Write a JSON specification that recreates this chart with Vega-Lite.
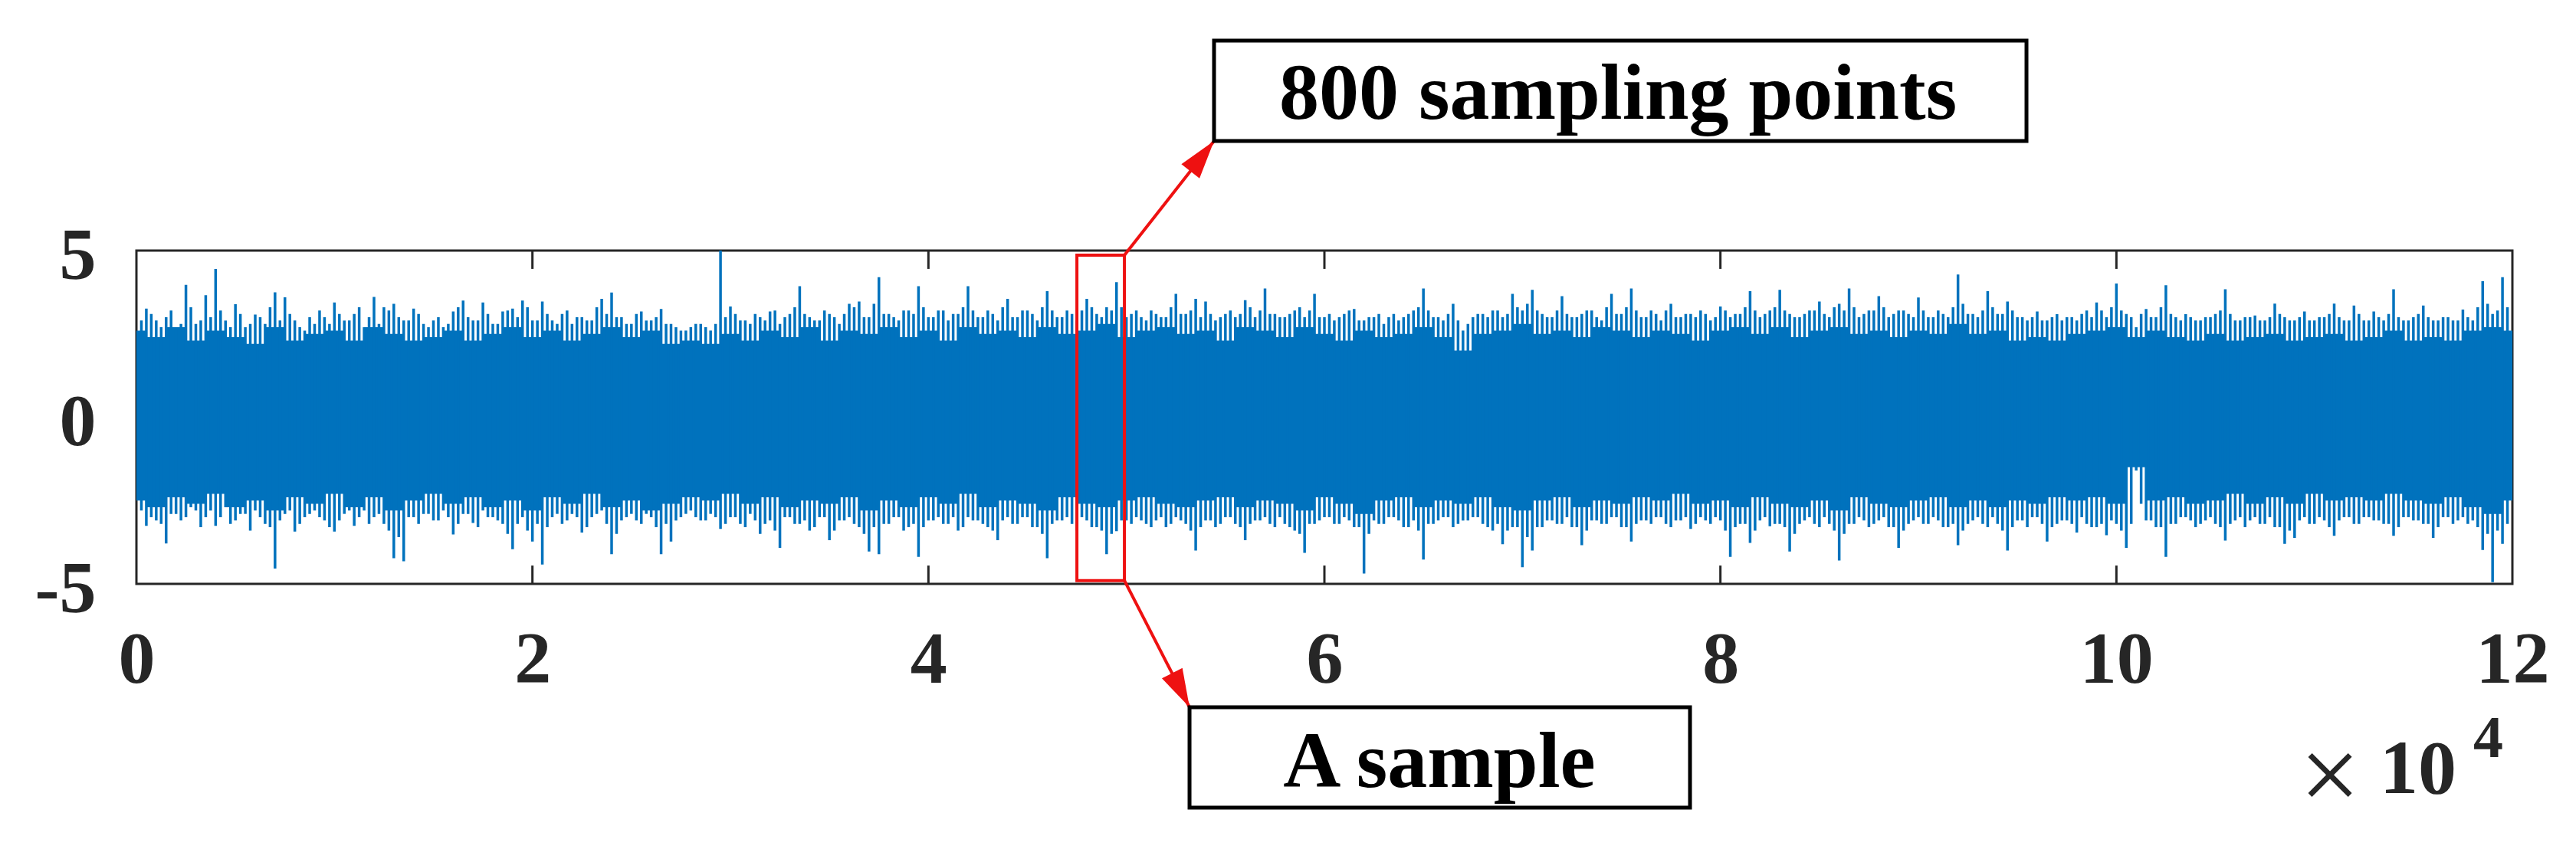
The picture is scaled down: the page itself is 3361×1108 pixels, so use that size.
{
  "$schema": "https://vega.github.io/schema/vega-lite/v6.json",
  "width": 3100,
  "height": 435,
  "autosize": {"type": "none"},
  "padding": {"left": 178, "top": 327, "right": 83, "bottom": 346},
  "background": "white",
  "config": {"view": {"stroke": "#262626", "strokeWidth": 3}, "font": "Liberation Serif"},
  "datasets": {
    "ticks": [{"t": 20000}, {"t": 40000}, {"t": 60000}, {"t": 80000}, {"t": 100000}],
    "core": [
      {"x":0,"y":2.6,"y2":-2.5},{"x":1000,"y":2.4,"y2":-2.7},{"x":2000,"y":2.7,"y2":-2.4},{"x":3000,"y":2.3,"y2":-2.6},{"x":4000,"y":2.6,"y2":-2.3},
      {"x":5000,"y":2.4,"y2":-2.7},{"x":6000,"y":2.2,"y2":-2.5},{"x":7000,"y":2.7,"y2":-2.8},{"x":8000,"y":2.3,"y2":-2.4},{"x":9000,"y":2.5,"y2":-2.6},
      {"x":10000,"y":2.6,"y2":-2.3},{"x":11000,"y":2.3,"y2":-2.7},{"x":12000,"y":2.7,"y2":-2.4},{"x":13000,"y":2.5,"y2":-2.8},{"x":14000,"y":2.3,"y2":-2.5},
      {"x":15000,"y":2.4,"y2":-2.3},{"x":16000,"y":2.6,"y2":-2.6},{"x":17000,"y":2.3,"y2":-2.4},{"x":18000,"y":2.5,"y2":-2.7},{"x":19000,"y":2.7,"y2":-2.5},
      {"x":20000,"y":2.4,"y2":-2.8},{"x":21000,"y":2.6,"y2":-2.4},{"x":22000,"y":2.3,"y2":-2.6},{"x":23000,"y":2.5,"y2":-2.3},{"x":24000,"y":2.7,"y2":-2.7},
      {"x":25000,"y":2.4,"y2":-2.5},{"x":26000,"y":2.6,"y2":-2.8},{"x":27000,"y":2.2,"y2":-2.6},{"x":28000,"y":2.3,"y2":-2.4},{"x":29000,"y":2.2,"y2":-2.5},
      {"x":30000,"y":2.5,"y2":-2.3},{"x":31000,"y":2.3,"y2":-2.6},{"x":32000,"y":2.6,"y2":-2.4},{"x":33000,"y":2.4,"y2":-2.7},{"x":34000,"y":2.7,"y2":-2.5},
      {"x":35000,"y":2.3,"y2":-2.6},{"x":36000,"y":2.6,"y2":-2.4},{"x":37000,"y":2.5,"y2":-2.8},{"x":38000,"y":2.7,"y2":-2.5},{"x":39000,"y":2.4,"y2":-2.7},
      {"x":40000,"y":2.6,"y2":-2.4},{"x":41000,"y":2.3,"y2":-2.6},{"x":42000,"y":2.7,"y2":-2.3},{"x":43000,"y":2.5,"y2":-2.7},{"x":44000,"y":2.6,"y2":-2.5},
      {"x":45000,"y":2.4,"y2":-2.6},{"x":46000,"y":2.7,"y2":-2.8},{"x":47000,"y":2.5,"y2":-2.4},{"x":48000,"y":2.6,"y2":-2.6},{"x":49000,"y":2.8,"y2":-2.7},
      {"x":50000,"y":2.4,"y2":-2.5},{"x":51000,"y":2.6,"y2":-2.4},{"x":52000,"y":2.7,"y2":-2.6},{"x":53000,"y":2.5,"y2":-2.7},{"x":54000,"y":2.6,"y2":-2.5},
      {"x":55000,"y":2.3,"y2":-2.4},{"x":56000,"y":2.7,"y2":-2.7},{"x":57000,"y":2.6,"y2":-2.5},{"x":58000,"y":2.4,"y2":-2.6},{"x":59000,"y":2.7,"y2":-2.8},
      {"x":60000,"y":2.5,"y2":-2.4},{"x":61000,"y":2.3,"y2":-2.6},{"x":62000,"y":2.6,"y2":-2.9},{"x":63000,"y":2.4,"y2":-2.5},{"x":64000,"y":2.5,"y2":-2.4},
      {"x":65000,"y":2.7,"y2":-2.7},{"x":66000,"y":2.4,"y2":-2.5},{"x":67000,"y":2.0,"y2":-2.6},{"x":68000,"y":2.5,"y2":-2.4},{"x":69000,"y":2.6,"y2":-2.7},
      {"x":70000,"y":2.8,"y2":-2.8},{"x":71000,"y":2.5,"y2":-2.5},{"x":72000,"y":2.6,"y2":-2.4},{"x":73000,"y":2.4,"y2":-2.7},{"x":74000,"y":2.7,"y2":-2.5},
      {"x":75000,"y":2.6,"y2":-2.6},{"x":76000,"y":2.4,"y2":-2.4},{"x":77000,"y":2.6,"y2":-2.5},{"x":78000,"y":2.5,"y2":-2.3},{"x":79000,"y":2.3,"y2":-2.6},
      {"x":80000,"y":2.6,"y2":-2.5},{"x":81000,"y":2.7,"y2":-2.7},{"x":82000,"y":2.5,"y2":-2.4},{"x":83000,"y":2.7,"y2":-2.6},{"x":84000,"y":2.4,"y2":-2.7},
      {"x":85000,"y":2.6,"y2":-2.5},{"x":86000,"y":2.7,"y2":-2.8},{"x":87000,"y":2.5,"y2":-2.4},{"x":88000,"y":2.6,"y2":-2.6},{"x":89000,"y":2.4,"y2":-2.7},
      {"x":90000,"y":2.6,"y2":-2.5},{"x":91000,"y":2.5,"y2":-2.4},{"x":92000,"y":2.8,"y2":-2.7},{"x":93000,"y":2.5,"y2":-2.5},{"x":94000,"y":2.6,"y2":-2.7},
      {"x":95000,"y":2.3,"y2":-2.5},{"x":96000,"y":2.4,"y2":-2.6},{"x":97000,"y":2.3,"y2":-2.4},{"x":98000,"y":2.5,"y2":-2.5},{"x":99000,"y":2.6,"y2":-2.4},
      {"x":100000,"y":2.7,"y2":-2.6},{"x":101000,"y":2.4,"y2":-1.5},{"x":102000,"y":2.6,"y2":-2.5},{"x":103000,"y":2.4,"y2":-2.4},{"x":104000,"y":2.3,"y2":-2.6},
      {"x":105000,"y":2.5,"y2":-2.5},{"x":106000,"y":2.3,"y2":-2.3},{"x":107000,"y":2.4,"y2":-2.6},{"x":108000,"y":2.5,"y2":-2.4},{"x":109000,"y":2.3,"y2":-2.6},
      {"x":110000,"y":2.4,"y2":-2.3},{"x":111000,"y":2.5,"y2":-2.5},{"x":112000,"y":2.3,"y2":-2.4},{"x":113000,"y":2.4,"y2":-2.5},{"x":114000,"y":2.6,"y2":-2.3},
      {"x":115000,"y":2.3,"y2":-2.5},{"x":116000,"y":2.4,"y2":-2.6},{"x":117000,"y":2.3,"y2":-2.4},{"x":118000,"y":2.6,"y2":-2.7},{"x":119000,"y":2.7,"y2":-2.9},
      {"x":120000,"y":2.6,"y2":-2.5}
    ],
    "spikes": [
      {"x":500,"y":3.26,"y2":-3.26},{"x":1000,"y":2.9,"y2":-3.1},{"x":1500,"y":3.0,"y2":-3.79},{"x":2000,"y":2.7,"y2":-2.9},{"x":2500,"y":3.97,"y2":-3.0},
      {"x":3000,"y":2.8,"y2":-2.8},{"x":3500,"y":3.66,"y2":-3.0},{"x":4000,"y":4.45,"y2":-3.26},{"x":4500,"y":2.9,"y2":-2.7},{"x":5000,"y":3.39,"y2":-3.1},
      {"x":5500,"y":2.7,"y2":-2.9},{"x":6000,"y":3.08,"y2":-2.8},{"x":6500,"y":2.8,"y2":-3.2},{"x":7000,"y":3.75,"y2":-4.54},{"x":7500,"y":3.6,"y2":-2.9},
      {"x":8000,"y":2.9,"y2":-3.43},{"x":8500,"y":2.6,"y2":-3.0},{"x":9000,"y":2.8,"y2":-2.8},{"x":9500,"y":3.0,"y2":-3.1},{"x":10000,"y":3.44,"y2":-3.43},
      {"x":10500,"y":2.9,"y2":-2.9},{"x":11000,"y":3.1,"y2":-3.26},{"x":11500,"y":2.7,"y2":-2.8},{"x":12000,"y":3.61,"y2":-3.0},{"x":12500,"y":3.3,"y2":-3.2},
      {"x":13000,"y":3.4,"y2":-4.23},{"x":13500,"y":2.9,"y2":-4.32},{"x":14000,"y":3.26,"y2":-3.0},{"x":14500,"y":2.8,"y2":-2.9},{"x":15000,"y":2.9,"y2":-3.1},
      {"x":15500,"y":2.7,"y2":-2.8},{"x":16000,"y":3.17,"y2":-3.52},{"x":16500,"y":3.5,"y2":-2.9},{"x":17000,"y":2.9,"y2":-3.17},{"x":17500,"y":3.44,"y2":-2.8},
      {"x":18000,"y":2.8,"y2":-3.0},{"x":18500,"y":3.17,"y2":-3.2},{"x":19000,"y":3.26,"y2":-3.96},{"x":19500,"y":3.5,"y2":-3.0},{"x":20000,"y":2.9,"y2":-3.73},
      {"x":20500,"y":3.47,"y2":-4.42},{"x":21000,"y":2.9,"y2":-3.0},{"x":21500,"y":3.1,"y2":-3.2},{"x":22000,"y":2.8,"y2":-2.9},{"x":22500,"y":3.0,"y2":-3.46},
      {"x":23000,"y":2.9,"y2":-3.0},{"x":23500,"y":3.55,"y2":-2.8},{"x":24000,"y":3.74,"y2":-4.11},{"x":24500,"y":3.0,"y2":-3.1},{"x":25000,"y":2.8,"y2":-2.9},
      {"x":25500,"y":3.17,"y2":-3.2},{"x":26000,"y":2.9,"y2":-3.0},{"x":26500,"y":3.25,"y2":-4.11},{"x":27000,"y":2.8,"y2":-3.73},{"x":27500,"y":2.6,"y2":-3.0},
      {"x":28000,"y":2.7,"y2":-2.8},{"x":28500,"y":2.8,"y2":-3.1},{"x":29000,"y":2.6,"y2":-2.9},{"x":29500,"y":5.0,"y2":-3.35},{"x":30000,"y":3.32,"y2":-3.0},
      {"x":30500,"y":2.9,"y2":-3.2},{"x":31000,"y":2.8,"y2":-2.9},{"x":31500,"y":3.0,"y2":-3.5},{"x":32000,"y":3.17,"y2":-3.1},{"x":32500,"y":2.8,"y2":-3.92},
      {"x":33000,"y":3.1,"y2":-3.0},{"x":33500,"y":3.93,"y2":-3.2},{"x":34000,"y":3.0,"y2":-3.4},{"x":34500,"y":2.9,"y2":-3.0},{"x":35000,"y":3.1,"y2":-3.69},
      {"x":35500,"y":2.8,"y2":-3.1},{"x":36000,"y":3.4,"y2":-3.0},{"x":36500,"y":3.47,"y2":-3.3},{"x":37000,"y":3.0,"y2":-4.03},{"x":37500,"y":4.2,"y2":-4.11},
      {"x":38000,"y":3.1,"y2":-3.2},{"x":38500,"y":2.9,"y2":-3.0},{"x":39000,"y":3.2,"y2":-3.3},{"x":39500,"y":3.93,"y2":-4.19},{"x":40000,"y":3.0,"y2":-3.1},
      {"x":40500,"y":3.2,"y2":-3.0},{"x":41000,"y":2.9,"y2":-3.2},{"x":41500,"y":3.1,"y2":-3.4},{"x":42000,"y":3.93,"y2":-3.0},{"x":42500,"y":3.0,"y2":-3.1},
      {"x":43000,"y":3.2,"y2":-3.3},{"x":43500,"y":2.9,"y2":-3.69},{"x":44000,"y":3.55,"y2":-3.0},{"x":44500,"y":3.0,"y2":-3.2},{"x":45000,"y":3.2,"y2":-3.0},
      {"x":45500,"y":2.9,"y2":-3.3},{"x":46000,"y":3.78,"y2":-4.23},{"x":46500,"y":3.0,"y2":-3.1},{"x":47000,"y":3.2,"y2":-3.0},{"x":47500,"y":2.9,"y2":-3.4},
      {"x":48000,"y":3.55,"y2":-3.1},{"x":48500,"y":3.1,"y2":-3.3},{"x":49000,"y":3.3,"y2":-4.11},{"x":49500,"y":4.05,"y2":-3.42},{"x":50000,"y":3.0,"y2":-3.1},
      {"x":50500,"y":3.2,"y2":-3.0},{"x":51000,"y":2.9,"y2":-3.2},{"x":51500,"y":3.1,"y2":-3.1},{"x":52000,"y":3.0,"y2":-3.3},{"x":52500,"y":3.7,"y2":-3.0},
      {"x":53000,"y":3.1,"y2":-3.2},{"x":53500,"y":3.55,"y2":-4.0},{"x":54000,"y":3.47,"y2":-3.1},{"x":54500,"y":2.9,"y2":-3.3},{"x":55000,"y":3.1,"y2":-3.0},
      {"x":55500,"y":3.0,"y2":-3.2},{"x":56000,"y":3.51,"y2":-3.69},{"x":56500,"y":3.0,"y2":-3.1},{"x":57000,"y":3.86,"y2":-3.0},{"x":57500,"y":3.1,"y2":-3.3},
      {"x":58000,"y":3.0,"y2":-3.2},{"x":58500,"y":3.2,"y2":-3.4},{"x":59000,"y":3.0,"y2":-4.07},{"x":59500,"y":3.7,"y2":-3.2},{"x":60000,"y":3.0,"y2":-3.0},
      {"x":60500,"y":2.9,"y2":-3.2},{"x":61000,"y":3.1,"y2":-3.0},{"x":61500,"y":3.25,"y2":-3.3},{"x":62000,"y":2.9,"y2":-4.69},{"x":62500,"y":3.0,"y2":-3.1},
      {"x":63000,"y":2.8,"y2":-3.2},{"x":63500,"y":3.1,"y2":-3.0},{"x":64000,"y":3.0,"y2":-3.3},{"x":64500,"y":3.2,"y2":-3.1},{"x":65000,"y":3.86,"y2":-4.27},
      {"x":65500,"y":3.0,"y2":-3.2},{"x":66000,"y":2.9,"y2":-3.0},{"x":66500,"y":3.4,"y2":-3.3},{"x":67000,"y":2.6,"y2":-3.1},{"x":67500,"y":3.0,"y2":-3.0},
      {"x":68000,"y":3.1,"y2":-3.2},{"x":68500,"y":3.2,"y2":-3.4},{"x":69000,"y":3.0,"y2":-3.81},{"x":69500,"y":3.7,"y2":-3.3},{"x":70000,"y":3.2,"y2":-4.5},
      {"x":70500,"y":3.82,"y2":-4.0},{"x":71000,"y":3.1,"y2":-3.3},{"x":71500,"y":3.0,"y2":-3.1},{"x":72000,"y":3.63,"y2":-3.2},{"x":72500,"y":3.0,"y2":-3.3},
      {"x":73000,"y":3.1,"y2":-3.84},{"x":73500,"y":3.2,"y2":-3.1},{"x":74000,"y":2.9,"y2":-3.2},{"x":74500,"y":3.7,"y2":-3.0},{"x":75000,"y":3.1,"y2":-3.3},
      {"x":75500,"y":3.86,"y2":-3.73},{"x":76000,"y":3.0,"y2":-3.1},{"x":76500,"y":3.2,"y2":-3.2},{"x":77000,"y":2.9,"y2":-3.0},{"x":77500,"y":3.4,"y2":-3.3},
      {"x":78000,"y":3.0,"y2":-3.1},{"x":78500,"y":3.1,"y2":-3.35},{"x":79000,"y":3.2,"y2":-3.0},{"x":79500,"y":2.9,"y2":-3.2},{"x":80000,"y":3.32,"y2":-3.1},
      {"x":80500,"y":3.0,"y2":-4.19},{"x":81000,"y":3.1,"y2":-3.2},{"x":81500,"y":3.78,"y2":-3.77},{"x":82000,"y":3.0,"y2":-3.1},{"x":82500,"y":3.2,"y2":-3.27},
      {"x":83000,"y":3.82,"y2":-3.2},{"x":83500,"y":3.1,"y2":-4.03},{"x":84000,"y":3.0,"y2":-3.2},{"x":84500,"y":3.2,"y2":-3.0},{"x":85000,"y":3.47,"y2":-3.3},
      {"x":85500,"y":3.0,"y2":-3.2},{"x":86000,"y":3.4,"y2":-4.3},{"x":86500,"y":3.86,"y2":-3.2},{"x":87000,"y":3.0,"y2":-3.0},{"x":87500,"y":3.2,"y2":-3.3},
      {"x":88000,"y":3.63,"y2":-3.1},{"x":88500,"y":3.0,"y2":-3.3},{"x":89000,"y":3.2,"y2":-3.92},{"x":89500,"y":3.1,"y2":-3.2},{"x":90000,"y":3.59,"y2":-3.0},
      {"x":90500,"y":3.0,"y2":-3.2},{"x":91000,"y":3.2,"y2":-3.1},{"x":91500,"y":3.0,"y2":-3.3},{"x":92000,"y":4.28,"y2":-3.84},{"x":92500,"y":3.1,"y2":-3.2},
      {"x":93000,"y":3.0,"y2":-3.0},{"x":93500,"y":3.78,"y2":-3.3},{"x":94000,"y":3.1,"y2":-3.2},{"x":94500,"y":3.47,"y2":-4.0},{"x":95000,"y":3.0,"y2":-3.1},
      {"x":95500,"y":2.9,"y2":-3.3},{"x":96000,"y":3.17,"y2":-3.0},{"x":96500,"y":2.9,"y2":-3.73},{"x":97000,"y":3.09,"y2":-3.2},{"x":97500,"y":3.0,"y2":-3.1},
      {"x":98000,"y":2.9,"y2":-3.46},{"x":98500,"y":3.2,"y2":-3.2},{"x":99000,"y":3.44,"y2":-3.3},{"x":99500,"y":3.0,"y2":-3.54},{"x":100000,"y":4.01,"y2":-3.2},
      {"x":100500,"y":3.1,"y2":-3.92},{"x":101000,"y":2.7,"y2":-1.6},{"x":101500,"y":3.25,"y2":-3.1},{"x":102000,"y":3.0,"y2":-3.3},{"x":102500,"y":3.96,"y2":-4.19},
      {"x":103000,"y":3.0,"y2":-3.2},{"x":103500,"y":3.09,"y2":-3.0},{"x":104000,"y":2.9,"y2":-3.3},{"x":104500,"y":3.0,"y2":-3.1},{"x":105000,"y":3.1,"y2":-3.2},
      {"x":105500,"y":3.84,"y2":-3.7},{"x":106000,"y":2.9,"y2":-3.1},{"x":106500,"y":3.0,"y2":-3.3},{"x":107000,"y":3.05,"y2":-3.0},{"x":107500,"y":2.9,"y2":-3.2},
      {"x":108000,"y":3.41,"y2":-3.3},{"x":108500,"y":3.0,"y2":-3.8},{"x":109000,"y":2.9,"y2":-3.62},{"x":109500,"y":3.17,"y2":-3.0},{"x":110000,"y":2.9,"y2":-3.2},
      {"x":110500,"y":3.0,"y2":-3.1},{"x":111000,"y":3.41,"y2":-3.56},{"x":111500,"y":2.9,"y2":-3.0},{"x":112000,"y":3.35,"y2":-3.2},{"x":112500,"y":2.9,"y2":-3.0},
      {"x":113000,"y":3.17,"y2":-3.1},{"x":113500,"y":2.9,"y2":-3.2},{"x":114000,"y":3.84,"y2":-3.56},{"x":114500,"y":2.9,"y2":-3.0},{"x":115000,"y":3.0,"y2":-3.1},
      {"x":115500,"y":3.35,"y2":-3.2},{"x":116000,"y":2.9,"y2":-3.62},{"x":116500,"y":3.0,"y2":-3.0},{"x":117000,"y":2.9,"y2":-3.2},{"x":117500,"y":3.23,"y2":-3.0},
      {"x":118000,"y":2.9,"y2":-3.1},{"x":118500,"y":4.08,"y2":-3.98},{"x":119000,"y":3.1,"y2":-4.95},{"x":119500,"y":4.2,"y2":-3.8}
    ],
    "fringe": [
      {"x":250,"y":2.9,"y2":-2.8},{"x":750,"y":3.1,"y2":-3.0},{"x":1250,"y":2.7,"y2":-3.2},{"x":1750,"y":3.2,"y2":-2.9},{"x":2250,"y":2.8,"y2":-3.1},
      {"x":2750,"y":3.3,"y2":-2.7},{"x":3250,"y":2.9,"y2":-3.3},{"x":3750,"y":3.0,"y2":-2.8},{"x":4250,"y":3.2,"y2":-3.0},{"x":4750,"y":2.7,"y2":-3.2},
      {"x":5250,"y":3.1,"y2":-2.9},{"x":5750,"y":2.8,"y2":-3.4},{"x":6250,"y":3.0,"y2":-3.0},{"x":6750,"y":3.3,"y2":-3.3},{"x":7250,"y":2.9,"y2":-3.1},
      {"x":7750,"y":3.1,"y2":-2.8},{"x":8250,"y":2.7,"y2":-3.2},{"x":8750,"y":3.0,"y2":-2.9},{"x":9250,"y":3.2,"y2":-3.0},{"x":9750,"y":2.8,"y2":-3.3},
      {"x":10250,"y":3.1,"y2":-3.1},{"x":10750,"y":2.9,"y2":-2.8},{"x":11250,"y":3.3,"y2":-3.0},{"x":11750,"y":3.0,"y2":-3.2},{"x":12250,"y":2.8,"y2":-2.9},
      {"x":12750,"y":3.2,"y2":-3.4},{"x":13250,"y":3.0,"y2":-3.6},{"x":13750,"y":2.9,"y2":-3.0},{"x":14250,"y":3.1,"y2":-3.2},{"x":14750,"y":2.7,"y2":-2.9},
      {"x":15250,"y":3.0,"y2":-3.1},{"x":15750,"y":2.8,"y2":-3.0},{"x":16250,"y":3.3,"y2":-3.2},{"x":16750,"y":3.0,"y2":-2.9},{"x":17250,"y":2.9,"y2":-3.3},
      {"x":17750,"y":3.1,"y2":-3.0},{"x":18250,"y":2.8,"y2":-3.1},{"x":18750,"y":3.2,"y2":-3.5},{"x":19250,"y":3.0,"y2":-3.2},{"x":19750,"y":3.3,"y2":-3.4},
      {"x":20250,"y":2.9,"y2":-3.2},{"x":20750,"y":3.1,"y2":-3.3},{"x":21250,"y":2.8,"y2":-2.9},{"x":21750,"y":3.2,"y2":-3.1},{"x":22250,"y":3.0,"y2":-3.0},
      {"x":22750,"y":2.9,"y2":-3.3},{"x":23250,"y":3.3,"y2":-2.9},{"x":23750,"y":3.1,"y2":-3.2},{"x":24250,"y":3.0,"y2":-3.5},{"x":24750,"y":2.8,"y2":-3.0},
      {"x":25250,"y":3.1,"y2":-3.1},{"x":25750,"y":2.9,"y2":-2.9},{"x":26250,"y":3.0,"y2":-3.3},{"x":26750,"y":2.8,"y2":-3.2},{"x":27250,"y":2.7,"y2":-3.1},
      {"x":27750,"y":2.6,"y2":-2.9},{"x":28250,"y":2.8,"y2":-3.0},{"x":28750,"y":2.7,"y2":-3.1},{"x":29250,"y":2.8,"y2":-3.0},{"x":29750,"y":3.0,"y2":-3.2},
      {"x":30250,"y":3.1,"y2":-3.0},{"x":30750,"y":2.9,"y2":-3.3},{"x":31250,"y":3.1,"y2":-3.1},{"x":31750,"y":2.9,"y2":-3.2},{"x":32250,"y":3.2,"y2":-3.4},
      {"x":32750,"y":3.0,"y2":-3.0},{"x":33250,"y":3.3,"y2":-3.2},{"x":33750,"y":3.1,"y2":-3.1},{"x":34250,"y":2.9,"y2":-3.3},{"x":34750,"y":3.2,"y2":-3.0},
      {"x":35250,"y":3.0,"y2":-3.4},{"x":35750,"y":3.1,"y2":-3.1},{"x":36250,"y":3.3,"y2":-3.2},{"x":36750,"y":3.0,"y2":-3.5},{"x":37250,"y":3.4,"y2":-3.3},
      {"x":37750,"y":3.1,"y2":-3.2},{"x":38250,"y":3.0,"y2":-3.0},{"x":38750,"y":3.2,"y2":-3.4},{"x":39250,"y":3.1,"y2":-3.2},{"x":39750,"y":3.3,"y2":-3.3},
      {"x":40250,"y":3.0,"y2":-3.1},{"x":40750,"y":3.2,"y2":-3.2},{"x":41250,"y":3.1,"y2":-3.0},{"x":41750,"y":3.3,"y2":-3.3},{"x":42250,"y":3.2,"y2":-3.1},
      {"x":42750,"y":3.0,"y2":-3.2},{"x":43250,"y":3.1,"y2":-3.4},{"x":43750,"y":3.3,"y2":-3.1},{"x":44250,"y":3.0,"y2":-3.2},{"x":44750,"y":3.2,"y2":-3.0},
      {"x":45250,"y":3.1,"y2":-3.3},{"x":45750,"y":3.3,"y2":-3.5},{"x":46250,"y":3.2,"y2":-3.2},{"x":46750,"y":3.0,"y2":-3.1},{"x":47250,"y":3.1,"y2":-3.2},
      {"x":47750,"y":3.2,"y2":-3.0},{"x":48250,"y":3.3,"y2":-3.3},{"x":48750,"y":3.0,"y2":-3.4},{"x":49250,"y":3.2,"y2":-3.5},{"x":49750,"y":3.3,"y2":-3.1},
      {"x":50250,"y":3.1,"y2":-3.2},{"x":50750,"y":3.0,"y2":-3.1},{"x":51250,"y":3.2,"y2":-3.3},{"x":51750,"y":3.0,"y2":-3.0},{"x":52250,"y":3.3,"y2":-3.2},
      {"x":52750,"y":3.1,"y2":-3.1},{"x":53250,"y":3.2,"y2":-3.4},{"x":53750,"y":3.0,"y2":-3.3},{"x":54250,"y":3.1,"y2":-3.1},{"x":54750,"y":3.0,"y2":-3.2},
      {"x":55250,"y":3.2,"y2":-3.0},{"x":55750,"y":3.1,"y2":-3.3},{"x":56250,"y":3.3,"y2":-3.2},{"x":56750,"y":3.2,"y2":-3.1},{"x":57250,"y":3.1,"y2":-3.2},
      {"x":57750,"y":3.0,"y2":-3.0},{"x":58250,"y":3.1,"y2":-3.3},{"x":58750,"y":3.3,"y2":-3.5},{"x":59250,"y":3.2,"y2":-3.2},{"x":59750,"y":3.0,"y2":-3.1},
      {"x":60250,"y":3.1,"y2":-3.0},{"x":60750,"y":3.0,"y2":-3.2},{"x":61250,"y":3.2,"y2":-3.1},{"x":61750,"y":2.9,"y2":-3.3},{"x":62250,"y":3.0,"y2":-3.5},
      {"x":62750,"y":3.1,"y2":-3.2},{"x":63250,"y":3.0,"y2":-3.0},{"x":63750,"y":2.9,"y2":-3.1},{"x":64250,"y":3.1,"y2":-3.3},{"x":64750,"y":3.3,"y2":-3.4},
      {"x":65250,"y":3.2,"y2":-3.2},{"x":65750,"y":3.0,"y2":-3.1},{"x":66250,"y":3.1,"y2":-3.0},{"x":66750,"y":2.9,"y2":-3.2},{"x":67250,"y":2.8,"y2":-3.1},
      {"x":67750,"y":3.1,"y2":-3.0},{"x":68250,"y":3.0,"y2":-3.3},{"x":68750,"y":3.2,"y2":-3.2},{"x":69250,"y":3.1,"y2":-3.4},{"x":69750,"y":3.3,"y2":-3.3},
      {"x":70250,"y":3.4,"y2":-3.6},{"x":70750,"y":3.2,"y2":-3.3},{"x":71250,"y":3.0,"y2":-3.1},{"x":71750,"y":3.2,"y2":-3.2},{"x":72250,"y":3.1,"y2":-3.0},
      {"x":72750,"y":3.0,"y2":-3.3},{"x":73250,"y":3.2,"y2":-3.4},{"x":73750,"y":3.0,"y2":-3.1},{"x":74250,"y":3.3,"y2":-3.2},{"x":74750,"y":3.1,"y2":-3.0},
      {"x":75250,"y":3.3,"y2":-3.3},{"x":75750,"y":3.2,"y2":-3.2},{"x":76250,"y":3.0,"y2":-3.1},{"x":76750,"y":3.1,"y2":-3.0},{"x":77250,"y":3.2,"y2":-3.2},
      {"x":77750,"y":3.0,"y2":-3.1},{"x":78250,"y":3.1,"y2":-3.0},{"x":78750,"y":3.0,"y2":-3.2},{"x":79250,"y":3.1,"y2":-3.1},{"x":79750,"y":3.0,"y2":-3.0},
      {"x":80250,"y":3.2,"y2":-3.4},{"x":80750,"y":3.1,"y2":-3.3},{"x":81250,"y":3.3,"y2":-3.2},{"x":81750,"y":3.2,"y2":-3.4},{"x":82250,"y":3.1,"y2":-3.0},
      {"x":82750,"y":3.3,"y2":-3.2},{"x":83250,"y":3.2,"y2":-3.3},{"x":83750,"y":3.0,"y2":-3.5},{"x":84250,"y":3.1,"y2":-3.1},{"x":84750,"y":3.2,"y2":-3.2},
      {"x":85250,"y":3.1,"y2":-3.0},{"x":85750,"y":3.3,"y2":-3.4},{"x":86250,"y":3.2,"y2":-3.5},{"x":86750,"y":3.3,"y2":-3.2},{"x":87250,"y":3.1,"y2":-3.1},
      {"x":87750,"y":3.2,"y2":-3.2},{"x":88250,"y":3.3,"y2":-3.0},{"x":88750,"y":3.1,"y2":-3.3},{"x":89250,"y":3.2,"y2":-3.4},{"x":89750,"y":3.0,"y2":-3.1},
      {"x":90250,"y":3.2,"y2":-3.2},{"x":90750,"y":3.0,"y2":-3.0},{"x":91250,"y":3.1,"y2":-3.3},{"x":91750,"y":3.3,"y2":-3.2},{"x":92250,"y":3.4,"y2":-3.4},
      {"x":92750,"y":3.1,"y2":-3.1},{"x":93250,"y":3.2,"y2":-3.2},{"x":93750,"y":3.3,"y2":-3.0},{"x":94250,"y":3.1,"y2":-3.4},{"x":94750,"y":3.2,"y2":-3.3},
      {"x":95250,"y":3.0,"y2":-3.1},{"x":95750,"y":3.0,"y2":-3.0},{"x":96250,"y":2.9,"y2":-3.2},{"x":96750,"y":3.0,"y2":-3.3},{"x":97250,"y":2.9,"y2":-3.1},
      {"x":97750,"y":3.0,"y2":-3.2},{"x":98250,"y":3.1,"y2":-3.0},{"x":98750,"y":3.0,"y2":-3.3},{"x":99250,"y":3.2,"y2":-3.2},{"x":99750,"y":3.3,"y2":-3.1},
      {"x":100250,"y":3.2,"y2":-3.4},{"x":100750,"y":3.0,"y2":-3.2},{"x":101250,"y":3.1,"y2":-2.6},{"x":101750,"y":3.0,"y2":-3.1},{"x":102250,"y":3.3,"y2":-3.3},
      {"x":102750,"y":3.1,"y2":-3.2},{"x":103250,"y":2.9,"y2":-3.0},{"x":103750,"y":3.0,"y2":-3.1},{"x":104250,"y":2.9,"y2":-3.2},{"x":104750,"y":3.0,"y2":-3.0},
      {"x":105250,"y":3.2,"y2":-3.3},{"x":105750,"y":3.1,"y2":-3.2},{"x":106250,"y":2.9,"y2":-3.0},{"x":106750,"y":3.0,"y2":-3.1},{"x":107250,"y":2.9,"y2":-3.2},
      {"x":107750,"y":3.0,"y2":-3.0},{"x":108250,"y":3.1,"y2":-3.3},{"x":108750,"y":2.9,"y2":-3.4},{"x":109250,"y":3.0,"y2":-3.1},{"x":109750,"y":2.9,"y2":-3.2},
      {"x":110250,"y":3.0,"y2":-3.0},{"x":110750,"y":3.1,"y2":-3.3},{"x":111250,"y":3.0,"y2":-3.1},{"x":111750,"y":2.9,"y2":-3.0},{"x":112250,"y":3.1,"y2":-3.2},
      {"x":112750,"y":2.9,"y2":-3.0},{"x":113250,"y":3.0,"y2":-3.1},{"x":113750,"y":3.1,"y2":-3.2},{"x":114250,"y":3.0,"y2":-3.3},{"x":114750,"y":2.9,"y2":-3.0},
      {"x":115250,"y":3.1,"y2":-3.1},{"x":115750,"y":3.0,"y2":-3.2},{"x":116250,"y":2.9,"y2":-3.3},{"x":116750,"y":3.0,"y2":-3.0},{"x":117250,"y":2.9,"y2":-3.1},
      {"x":117750,"y":3.0,"y2":-3.2},{"x":118250,"y":3.3,"y2":-3.3},{"x":118750,"y":3.4,"y2":-3.5},{"x":119250,"y":3.2,"y2":-3.4},{"x":119750,"y":3.3,"y2":-3.2}
    ]
  },
  "layer": [
    {
      "data": {"name": "core"},
      "mark": {"type": "area", "color": "#0072BD", "opacity": 1, "interpolate": "step"},
      "encoding": {
        "x": {"field": "x", "type": "quantitative",
              "scale": {"domain": [0, 120000], "nice": false, "zero": false},
              "axis": {"title": null, "values": [0, 20000, 40000, 60000, 80000, 100000, 120000], "labelExpr": "'' + (datum.value / 10000)",
                       "ticks": false, "domain": false, "grid": false, "labelFont": "Liberation Serif", "labelFontWeight": "bold",
                       "labelFontSize": 96, "labelColor": "#262626", "labelPadding": 52, "labelFlush": false, "labelBaseline": "top", "labelOverlap": false}},
        "y": {"field": "y", "type": "quantitative",
              "scale": {"domain": [-5, 5], "nice": false, "zero": false},
              "axis": {"title": null, "values": [-5, 0, 5], "labelExpr": "'' + datum.value", "ticks": false, "domain": false, "grid": false,
                       "labelFont": "Liberation Serif", "labelFontWeight": "bold", "labelFontSize": 96, "labelColor": "#262626",
                       "labelPadding": 53, "labelOffset": 7, "labelFlush": false, "labelBaseline": "middle", "labelOverlap": false}},
        "y2": {"field": "y2"}
      }
    },
    {
      "data": {"name": "fringe"},
      "mark": {"type": "rule", "color": "#0072BD", "strokeWidth": 3.5},
      "encoding": {
        "x": {"field": "x", "type": "quantitative"},
        "y": {"field": "y", "type": "quantitative"},
        "y2": {"field": "y2"}
      }
    },
    {
      "data": {"name": "spikes"},
      "mark": {"type": "rule", "color": "#0072BD", "strokeWidth": 3.5},
      "encoding": {
        "x": {"field": "x", "type": "quantitative"},
        "y": {"field": "y", "type": "quantitative"},
        "y2": {"field": "y2"}
      }
    },
    {
      "data": {"name": "ticks"},
      "mark": {"type": "rule", "stroke": "#262626", "strokeWidth": 3},
      "encoding": {
        "x": {"field": "t", "type": "quantitative"},
        "y": {"datum": -5, "type": "quantitative"},
        "y2": {"datum": -4.45}
      }
    },
    {
      "data": {"name": "ticks"},
      "mark": {"type": "rule", "stroke": "#262626", "strokeWidth": 3},
      "encoding": {
        "x": {"field": "t", "type": "quantitative"},
        "y": {"datum": 5, "type": "quantitative"},
        "y2": {"datum": 4.45}
      }
    },
    {
      "data": {"values": [{}]},
      "mark": {"type": "rect", "fillOpacity": 0, "stroke": "#ee1111", "strokeWidth": 4},
      "encoding": {
        "x": {"datum": 47500, "type": "quantitative"},
        "x2": {"datum": 49900},
        "y": {"datum": 4.86, "type": "quantitative"},
        "y2": {"datum": -4.9}
      }
    },
    {
      "data": {"values": [{}]},
      "mark": {"type": "rule", "stroke": "#ee1111", "strokeWidth": 4},
      "encoding": {
        "x": {"datum": 49900, "type": "quantitative"},
        "x2": {"datum": 54426},
        "y": {"datum": 4.86, "type": "quantitative"},
        "y2": {"datum": 8.287}
      }
    },
    {
      "data": {"values": [{}]},
      "mark": {"type": "rule", "stroke": "#ee1111", "strokeWidth": 4},
      "encoding": {
        "x": {"datum": 49900, "type": "quantitative"},
        "x2": {"datum": 53188},
        "y": {"datum": -4.9, "type": "quantitative"},
        "y2": {"datum": -8.701}
      }
    },
    {
      "data": {"values": [{}]},
      "mark": {"type": "point", "shape": "M0,0L-0.3,1L0.3,1Z", "size": 10000, "filled": true, "color": "#ee1111", "opacity": 1, "angle": 38},
      "encoding": {
        "x": {"datum": 54426, "type": "quantitative"},
        "y": {"datum": 8.287, "type": "quantitative"}
      }
    },
    {
      "data": {"values": [{}]},
      "mark": {"type": "point", "shape": "M0,0L-0.3,1L0.3,1Z", "size": 10000, "filled": true, "color": "#ee1111", "opacity": 1, "angle": 153},
      "encoding": {
        "x": {"datum": 53188, "type": "quantitative"},
        "y": {"datum": -8.701, "type": "quantitative"}
      }
    },
    {
      "data": {"values": [{}]},
      "mark": {"type": "rect", "fill": "white", "stroke": "black", "strokeWidth": 5},
      "encoding": {
        "x": {"datum": 54426, "type": "quantitative"},
        "x2": {"datum": 95459},
        "y": {"datum": 11.3, "type": "quantitative"},
        "y2": {"datum": 8.287}
      }
    },
    {
      "data": {"values": [{}]},
      "mark": {"type": "rect", "fill": "white", "stroke": "black", "strokeWidth": 5},
      "encoding": {
        "x": {"datum": 53188, "type": "quantitative"},
        "x2": {"datum": 78465},
        "y": {"datum": -8.701, "type": "quantitative"},
        "y2": {"datum": -11.713}
      }
    },
    {
      "data": {"values": [{}]},
      "mark": {"type": "text", "text": "800 sampling points", "font": "Liberation Serif", "fontWeight": "bold", "fontSize": 104, "align": "center", "baseline": "alphabetic", "color": "black"},
      "encoding": {
        "x": {"datum": 74827, "type": "quantitative"},
        "y": {"datum": 8.954, "type": "quantitative"}
      }
    },
    {
      "data": {"values": [{}]},
      "mark": {"type": "text", "text": "A sample", "font": "Liberation Serif", "fontWeight": "bold", "fontSize": 104, "align": "center", "baseline": "alphabetic", "color": "black"},
      "encoding": {
        "x": {"datum": 65807, "type": "quantitative"},
        "y": {"datum": -11.09, "type": "quantitative"}
      }
    },
    {
      "data": {"values": [{}]},
      "mark": {"type": "text", "text": "×", "font": "Liberation Serif", "fontWeight": "normal", "fontSize": 140, "align": "center", "baseline": "middle", "color": "#262626"},
      "encoding": {
        "x": {"datum": 110789, "type": "quantitative"},
        "y": {"datum": -10.85, "type": "quantitative"}
      }
    },
    {
      "data": {"values": [{}]},
      "mark": {"type": "text", "text": "10", "font": "Liberation Serif", "fontWeight": "bold", "fontSize": 100, "align": "left", "baseline": "alphabetic", "color": "#262626"},
      "encoding": {
        "x": {"datum": 113305, "type": "quantitative"},
        "y": {"datum": -11.276, "type": "quantitative"}
      }
    },
    {
      "data": {"values": [{}]},
      "mark": {"type": "text", "text": "4", "font": "Liberation Serif", "fontWeight": "bold", "fontSize": 78, "align": "left", "baseline": "alphabetic", "color": "#262626"},
      "encoding": {
        "x": {"datum": 118028, "type": "quantitative"},
        "y": {"datum": -10.195, "type": "quantitative"}
      }
    }
  ]
}
